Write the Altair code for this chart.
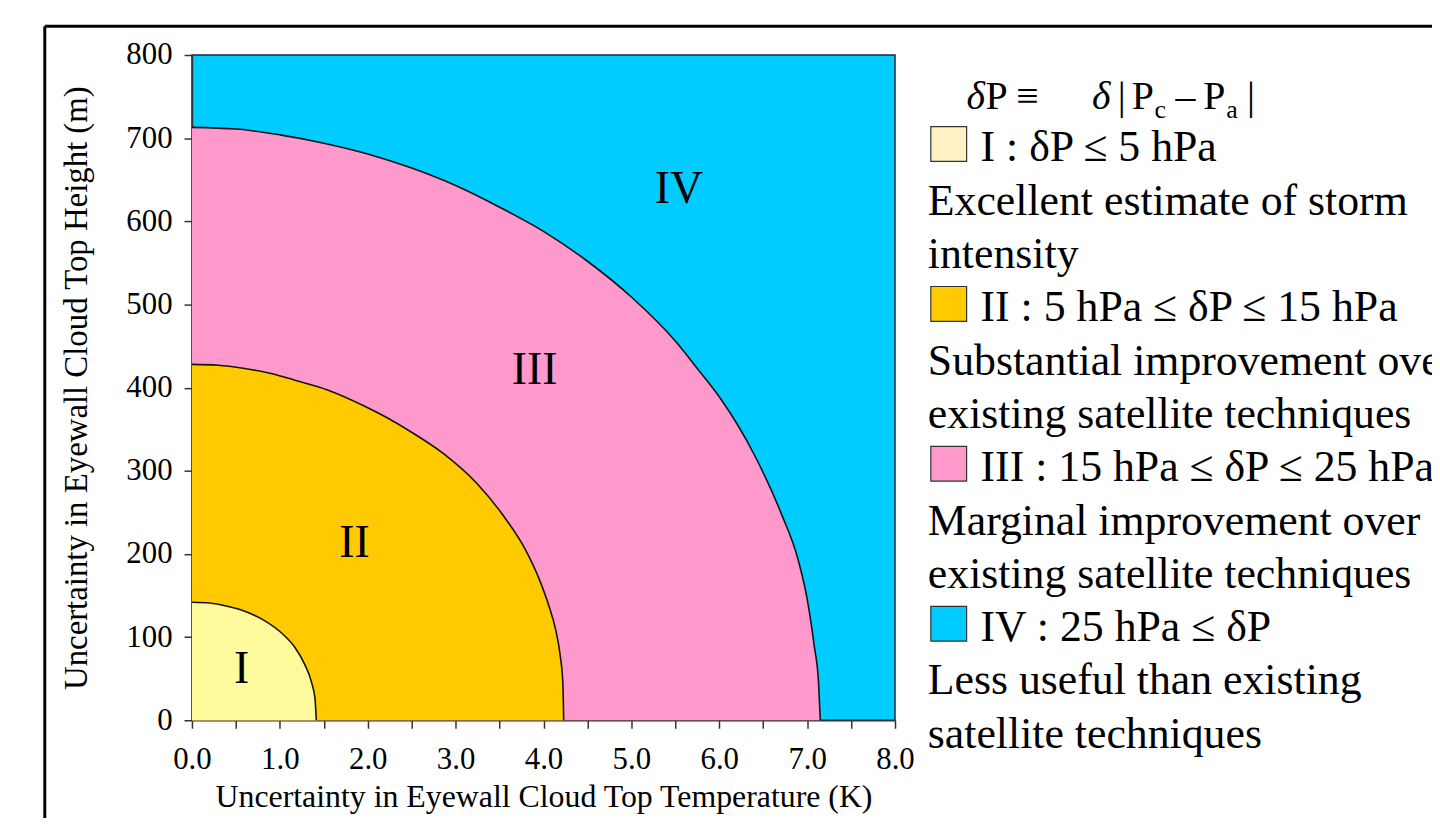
import altair as alt
import pandas as pd

# ---- data ----
# boundary of region I (x: K, y: m)
curve1_x = [0, 0.2, 0.4, 0.6, 0.83, 1.02, 1.17, 1.28, 1.36, 1.40, 1.415]
curve1_y = [142, 141, 137, 131, 119.6, 104.9, 87.8, 67.8, 45.9, 26, 0]
# boundary of region II
curve2_x = [0, 0.3, 0.6, 0.9, 1.17, 1.55, 1.96, 2.2, 2.49, 2.87, 3.24, 3.55, 3.8, 3.95, 4.06, 4.14, 4.19, 4.22, 4.23]
curve2_y = [428, 427, 423, 417, 409, 397, 378, 365, 347, 320, 285, 245, 204, 170, 138, 108, 78, 45, 0]
# boundary of region III
curve3_x = [0, 0.5, 1.0, 1.5, 2.0, 2.5, 3.0, 3.5, 4.0, 4.5, 5.0, 5.5, 5.75, 6.0, 6.4, 6.7, 6.9, 7.0, 7.08, 7.13, 7.15]
curve3_y = [713, 711, 704, 694, 681, 664, 643, 617, 588, 552, 509, 456, 423, 389, 319, 250, 192, 146, 90, 45, 0]

region_names = ["I", "II", "III", "IV"]
region_label_x = [0.566, 1.85, 3.9, 5.54]
region_label_y = [62, 213, 421, 639]

x_ticks = [0, 0.5, 1, 1.5, 2, 2.5, 3, 3.5, 4, 4.5, 5, 5.5, 6, 6.5, 7, 7.5, 8]
y_ticks = [0, 100, 200, 300, 400, 500, 600, 700, 800]

legend_lines = [
    "I : δP ≤ 5 hPa",
    "Excellent estimate of storm",
    "intensity",
    "II : 5 hPa ≤ δP ≤ 15 hPa",
    "Substantial improvement over",
    "existing satellite techniques",
    "III : 15 hPa ≤ δP ≤ 25 hPa",
    "Marginal improvement over",
    "existing satellite techniques",
    "IV : 25 hPa ≤ δP",
    "Less useful than existing",
    "satellite techniques",
]
legend_swatch_rows = [0, 3, 6, 9]

# ---- styles ----
FONT = "Liberation Serif"
C_I, C_II, C_III, C_IV = "#FFFB9C", "#FFCA00", "#FF99CC", "#00CCFF"
SW_COLORS = ["#FFF1C4", "#FFCA00", "#FF99CC", "#00CCFF"]
W, H = 707, 669
OX, OY = 193, 53  # screen position of plot origin (page margin + padding)

xs = alt.Scale(domain=[0, 8], nice=False, zero=False)
ys = alt.Scale(domain=[0, 800], nice=False)
xaxis = alt.Axis(
    values=x_ticks, grid=False,
    labelExpr="datum.value % 1 == 0 ? format(datum.value, '.1f') : ''",
    title="Uncertainty in Eyewall Cloud Top Temperature (K)",
    tickSize=8, labelPadding=16, titlePadding=8, labelFlush=False,
)
yaxis = alt.Axis(
    values=y_ticks, grid=False, format="d",
    title="Uncertainty in Eyewall Cloud Top Height (m)",
    tickSize=8, labelPadding=12, titlePadding=33, titleFontSize=33,
)
X = alt.X("x:Q", scale=xs, axis=xaxis)
Y = alt.Y("y:Q", scale=ys, axis=yaxis)

layers = []
for (cx, cy), col in zip([(curve3_x, curve3_y), (curve2_x, curve2_y), (curve1_x, curve1_y)], [C_III, C_II, C_I]):
    d = pd.DataFrame({"x": cx, "y": cy})
    layers.append(alt.Chart(d).mark_area(color=col, opacity=1, interpolate="monotone").encode(x=X, y=Y))
    layers.append(alt.Chart(d).mark_line(color="#151515", strokeWidth=1.6, interpolate="monotone").encode(x=X, y=Y))

lab_df = pd.DataFrame({"x": region_label_x, "y": region_label_y, "t": region_names})
layers.append(alt.Chart(lab_df).mark_text(font=FONT, fontSize=46, color="black", baseline="middle", align="center").encode(x=X, y=Y, text="t:N"))

# ---- legend panel (pixel positions relative to plot origin) ----
row_base = [160 + 53.6 * i for i in range(len(legend_lines))]
leg_df = pd.DataFrame({
    "t": legend_lines,
    "px": [(986 if i in legend_swatch_rows else 933) - OX for i in range(len(legend_lines))],
    "py": [b - OY for b in row_base],
})
layers.append(alt.Chart(leg_df).mark_text(font=FONT, fontSize=44, color="black", baseline="alphabetic", align="left").encode(
    x=alt.X("px:Q", scale=None), y=alt.Y("py:Q", scale=None), text="t:N"))

sw_df = pd.DataFrame({
    "c": SW_COLORS,
    "x1": [936 - OX] * 4, "x2": [972 - OX] * 4,
    "y1": [row_base[i] - 35 - OY for i in legend_swatch_rows],
    "y2": [row_base[i] - OY for i in legend_swatch_rows],
})
layers.append(alt.Chart(sw_df).mark_rect(stroke="#333333", strokeWidth=1.2).encode(
    x=alt.X("x1:Q", scale=None), x2="x2:Q", y=alt.Y("y1:Q", scale=None), y2="y2:Q",
    fill=alt.Fill("c:N", scale=None)))

# header: δP ≡  δ | Pc – Pa |
HB = 107
hdr = pd.DataFrame({
    "t": ["δ", "P", "≡", "δ", "|", "P", "c", "–", "P", "a", "|"],
    "px": [x - OX for x in [972, 991, 1022, 1098, 1124, 1138, 1161, 1182, 1210, 1233, 1254]],
    "py": [b - OY for b in [HB, HB, HB, HB, HB, HB, HB + 9, HB, HB, HB + 9, HB]],
    "fs": [40, 40, 40, 40, 40, 40, 26, 40, 40, 26, 40],
    "st": ["italic", "normal", "normal", "italic", "normal", "normal", "normal", "normal", "normal", "normal", "normal"],
})
for style in ["italic", "normal"]:
    for fs in [40, 26]:
        sub = hdr[(hdr.st == style) & (hdr.fs == fs)]
        if len(sub):
            layers.append(alt.Chart(sub).mark_text(font=FONT, fontSize=fs, fontStyle=style, color="black",
                                                   baseline="alphabetic", align="left").encode(
                x=alt.X("px:Q", scale=None), y=alt.Y("py:Q", scale=None), text="t:N"))

# outer frame lines (left and top)
frame_df = pd.DataFrame({"k": ["frame"]})
layers.append(alt.Chart(frame_df).mark_rule(color="black", strokeWidth=3).encode(
    x=alt.value(45 - OX), y=alt.value(24 - OY), y2=alt.value(900)))
layers.append(alt.Chart(frame_df).mark_rule(color="black", strokeWidth=3).encode(
    x=alt.value(45 - OX), x2=alt.value(1600), y=alt.value(24 - OY)))

chart = alt.layer(*layers).properties(
    width=W, height=H,
    autosize=alt.AutoSizeParams(type="none"),
    padding={"left": OX - 8, "top": OY - 8, "right": 1432 - (OX - 8) - W, "bottom": 96},
    background="white",
).configure_view(
    fill=C_IV, stroke="#1b2a3a", strokeWidth=1.5,
).configure_axis(
    labelFont=FONT, titleFont=FONT, labelFontSize=31, titleFontSize=32,
    titleFontWeight="normal", labelColor="black", titleColor="black",
    domainColor="#333333", tickColor="#333333", domainWidth=1.5, tickWidth=1.5,
)

chart.save("out.html", embed_options={"renderer": "svg", "actions": False})
